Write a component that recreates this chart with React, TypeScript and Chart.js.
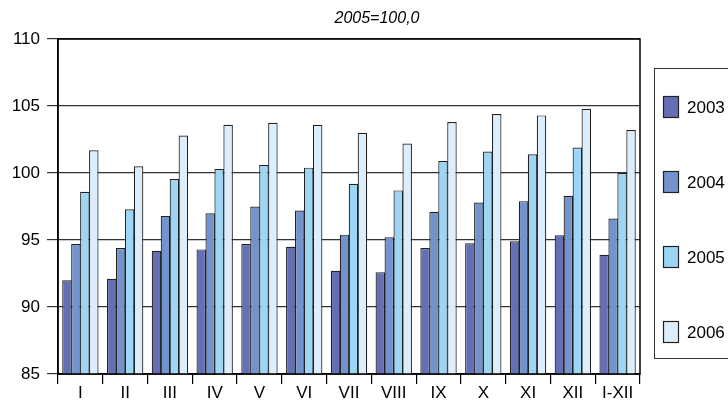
import React, { useEffect, useRef } from "react";
import { Chart, registerables } from "chart.js";

Chart.register(...registerables);

const categories = ["I", "II", "III", "IV", "V", "VI", "VII", "VIII", "IX", "X", "XI", "XII", "I-XII"];
const seriesNames = ["2003", "2004", "2005", "2006"];
const y2003 = [92.0, 92.1, 94.2, 94.3, 94.7, 94.5, 92.7, 92.6, 94.4, 94.75, 94.9, 95.35, 93.9];
const y2004 = [94.7, 94.4, 96.8, 97.0, 97.5, 97.2, 95.4, 95.2, 97.1, 97.8, 97.9, 98.3, 96.6];
const y2005 = [98.6, 97.3, 99.55, 100.3, 100.6, 100.4, 99.2, 98.7, 100.9, 101.6, 101.4, 101.9, 100.0];
const y2006 = [101.7, 100.5, 102.8, 103.6, 103.75, 103.6, 103.0, 102.2, 103.8, 104.4, 104.3, 104.8, 103.2];
const colors = ["#6570b4", "#7393cc", "#9dd5f5", "#dcedfb"];
const titleText = "2005=100,0";
const yMin = 85;
const yMax = 110;
const yStep = 5;

const FONT = "'Liberation Sans', Arial, Helvetica, sans-serif";

const decorPlugin = {
  id: "decor",
  afterDraw(chart: any) {
    const ctx = chart.ctx;
    const a = chart.chartArea;
    ctx.save();
    // plot border
    ctx.strokeStyle = "#000";
    ctx.lineWidth = 1.5;
    ctx.strokeRect(a.left, a.top, a.right - a.left, a.bottom - a.top);
    // title
    ctx.fillStyle = "#000";
    ctx.font = `italic 16px ${FONT}`;
    ctx.textAlign = "center";
    ctx.textBaseline = "middle";
    ctx.fillText(titleText, 377, 19);
    // legend frame
    ctx.strokeStyle = "#333";
    ctx.lineWidth = 1;
    ctx.strokeRect(654.5, 68.5, 120, 290);
    // legend items
    ctx.font = `17px ${FONT}`;
    ctx.textAlign = "left";
    chart.data.datasets.forEach((ds: any, i: number) => {
      const top = 96.5 + i * 75;
      ctx.fillStyle = ds.backgroundColor;
      ctx.fillRect(663.5, top, 15, 21);
      ctx.strokeStyle = "#222";
      ctx.lineWidth = 1.2;
      ctx.strokeRect(663.5, top, 15, 21);
      ctx.fillStyle = "#000";
      ctx.fillText(ds.label, 687, top + 12);
    });
    ctx.restore();
  },
};

export default function App() {
  const ref = useRef<HTMLCanvasElement | null>(null);
  useEffect(() => {
    if (!ref.current) return;
    const data = [y2003, y2004, y2005, y2006];
    const chart = new Chart(ref.current, {
      type: "bar",
      data: {
        labels: categories,
        datasets: seriesNames.map((name, i) => ({
          label: name,
          data: data[i],
          backgroundColor: colors[i],
          borderColor: "#222",
          borderWidth: 1.2,
          borderSkipped: false,
          barPercentage: 1.06,
          categoryPercentage: 0.8,
        })),
      },
      options: {
        responsive: false,
        animation: false,
        events: [],
        layout: { padding: { top: 39, right: 88, left: 0, bottom: 0 } },
        plugins: {
          legend: { display: false },
          title: { display: false },
          tooltip: { enabled: false },
        },
        scales: {
          x: {
            grid: {
              offset: true,
              drawOnChartArea: false,
              drawTicks: true,
              tickLength: 10,
              color: "#000",
              lineWidth: 1.2,
            },
            border: { color: "#000", width: 1.5 },
            ticks: {
              color: "#000",
              font: { size: 17, family: FONT },
              padding: -1,
              maxRotation: 0,
              autoSkip: false,
            },
            afterFit(scale: any) {
              scale.height = 26;
            },
          },
          y: {
            min: yMin,
            max: yMax,
            grid: {
              color: "#333",
              lineWidth: 1.2,
              tickLength: 11,
            },
            border: { color: "#000", width: 1.5 },
            ticks: {
              stepSize: yStep,
              color: "#000",
              font: { size: 17, family: FONT },
              padding: 7,
            },
            afterFit(scale: any) {
              scale.width = 58;
            },
          },
        },
      },
      plugins: [decorPlugin],
    });
    return () => chart.destroy();
  }, []);
  return (
    <div style={{ position: "fixed", left: 0, top: 0, width: 728, height: 400, background: "#fff" }}>
      <canvas ref={ref} width={728} height={400} style={{ display: "block" }} />
    </div>
  );
}
